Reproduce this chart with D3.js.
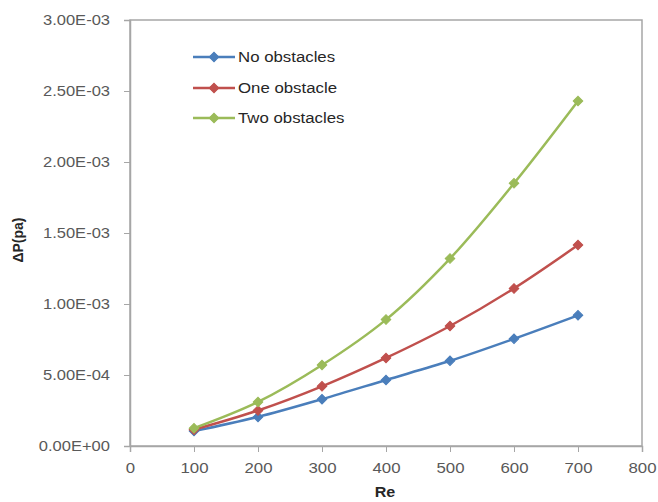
<!DOCTYPE html>
<html>
<head>
<meta charset="utf-8">
<script src="https://cdn.jsdelivr.net/npm/d3@7"></script>
<style>
  html, body { margin: 0; padding: 0; background: #fff; }
  svg { display: block; font-family: "Liberation Sans", Arial, sans-serif; }
</style>
</head>
<body>
<svg id="chart" width="658" height="502"></svg>
<script>
// Reynolds numbers on the x axis
const reynolds = [100, 200, 300, 400, 500, 600, 700];

// Pressure drop (Pa) for each configuration
const noObstacles  = [1.05e-4, 2.05e-4, 3.30e-4, 4.65e-4, 6.00e-4, 7.55e-4, 9.20e-4];
const oneObstacle  = [1.15e-4, 2.50e-4, 4.20e-4, 6.20e-4, 8.45e-4, 1.11e-3, 1.415e-3];
const twoObstacles = [1.25e-4, 3.10e-4, 5.70e-4, 8.90e-4, 1.32e-3, 1.85e-3, 2.43e-3];

const seriesNames  = ["No obstacles", "One obstacle", "Two obstacles"];
const seriesColors = ["#4a7ebb", "#c0504d", "#9bbb59"];

const xTicks = [0, 100, 200, 300, 400, 500, 600, 700, 800];
const yTicks = [0, 5e-4, 1e-3, 1.5e-3, 2e-3, 2.5e-3, 3e-3];
const yTickLabels = ["0.00E+00", "5.00E-04", "1.00E-03", "1.50E-03", "2.00E-03", "2.50E-03", "3.00E-03"];

const series = [noObstacles, oneObstacle, twoObstacles].map((vals, i) => ({
  name: seriesNames[i],
  color: seriesColors[i],
  points: reynolds.map((re, j) => ({ x: re, y: vals[j] }))
}));

const svg = d3.select("#chart");
const plot = { left: 130, right: 642, top: 20, bottom: 446 };

const x = d3.scaleLinear().domain([0, 800]).range([plot.left, plot.right]);
const y = d3.scaleLinear().domain([0, 3e-3]).range([plot.bottom, plot.top]);

// Widen horizontal text a little (wide-set labels)
function widen(sel, factor) {
  sel.each(function () {
    const w = this.getComputedTextLength();
    d3.select(this).attr("textLength", w * factor).attr("lengthAdjust", "spacingAndGlyphs");
  });
}

// Plot area frame
svg.append("rect")
  .attr("x", plot.left).attr("y", plot.top)
  .attr("width", plot.right - plot.left).attr("height", plot.bottom - plot.top)
  .attr("fill", "none").attr("stroke", "#a6a6a6").attr("stroke-width", 1.5);

// Y axis
const yAxis = svg.append("g")
  .attr("transform", `translate(${plot.left},0)`)
  .call(d3.axisLeft(y).tickValues(yTicks)
    .tickFormat((d, i) => yTickLabels[i]).tickSize(6).tickPadding(14));
yAxis.select(".domain").attr("stroke", "#a6a6a6").attr("stroke-width", 1.5);
yAxis.selectAll(".tick line").attr("stroke", "#a6a6a6");
yAxis.selectAll(".tick text")
  .attr("fill", "#595959").style("font-size", "14px")
  .style("font-family", "'Liberation Sans', Arial, sans-serif")
  .call(widen, 1.18);

// X axis
const xAxis = svg.append("g")
  .attr("transform", `translate(0,${plot.bottom})`)
  .call(d3.axisBottom(x).tickValues(xTicks).tickFormat(d3.format("d")).tickSize(6).tickPadding(11));
xAxis.select(".domain").attr("stroke", "#a6a6a6").attr("stroke-width", 1.5);
xAxis.selectAll(".tick line").attr("stroke", "#a6a6a6");
xAxis.selectAll(".tick text")
  .attr("fill", "#595959").style("font-size", "14px")
  .style("font-family", "'Liberation Sans', Arial, sans-serif")
  .call(widen, 1.2);

// Axis titles
svg.append("text")
  .attr("x", (plot.left + plot.right) / 2 - 1).attr("y", 497)
  .attr("text-anchor", "middle")
  .style("font-size", "14px").style("font-weight", "bold").attr("fill", "#262626")
  .text("Re")
  .call(widen, 1.15);

svg.append("text")
  .attr("transform", "translate(23,240) rotate(-90)")
  .attr("text-anchor", "middle")
  .style("font-size", "14px").style("font-weight", "bold").attr("fill", "#262626")
  .text("ΔP(pa)");

// Smoothed series lines
const line = d3.line()
  .x(d => x(d.x)).y(d => y(d.y))
  .curve(d3.curveCatmullRom.alpha(0.5));

// Diamond marker: a square turned 45 degrees
const marker = d3.symbol().type(d3.symbolSquare).size(46);

const g = svg.append("g");
series.forEach(s => {
  g.append("path")
    .datum(s.points)
    .attr("d", line)
    .attr("fill", "none")
    .attr("stroke", s.color)
    .attr("stroke-width", 2.5);
  g.selectAll(null)
    .data(s.points)
    .enter().append("path")
    .attr("d", marker)
    .attr("transform", d => `translate(${x(d.x)},${y(d.y)}) rotate(45)`)
    .attr("fill", s.color)
    .attr("stroke", s.color)
    .attr("stroke-width", 1);
});

// Legend
const legend = svg.append("g");
const legendRows = [57, 88, 118];
series.forEach((s, i) => {
  const ly = legendRows[i];
  legend.append("line")
    .attr("x1", 193).attr("x2", 235).attr("y1", ly).attr("y2", ly)
    .attr("stroke", s.color).attr("stroke-width", 2.5);
  legend.append("path")
    .attr("d", marker)
    .attr("transform", `translate(214,${ly}) rotate(45)`)
    .attr("fill", s.color).attr("stroke", s.color);
  legend.append("text")
    .attr("x", 238).attr("y", ly + 5)
    .style("font-size", "14px").attr("fill", "#262626")
    .text(s.name)
    .call(widen, 1.2);
});
</script>
</body>
</html>
